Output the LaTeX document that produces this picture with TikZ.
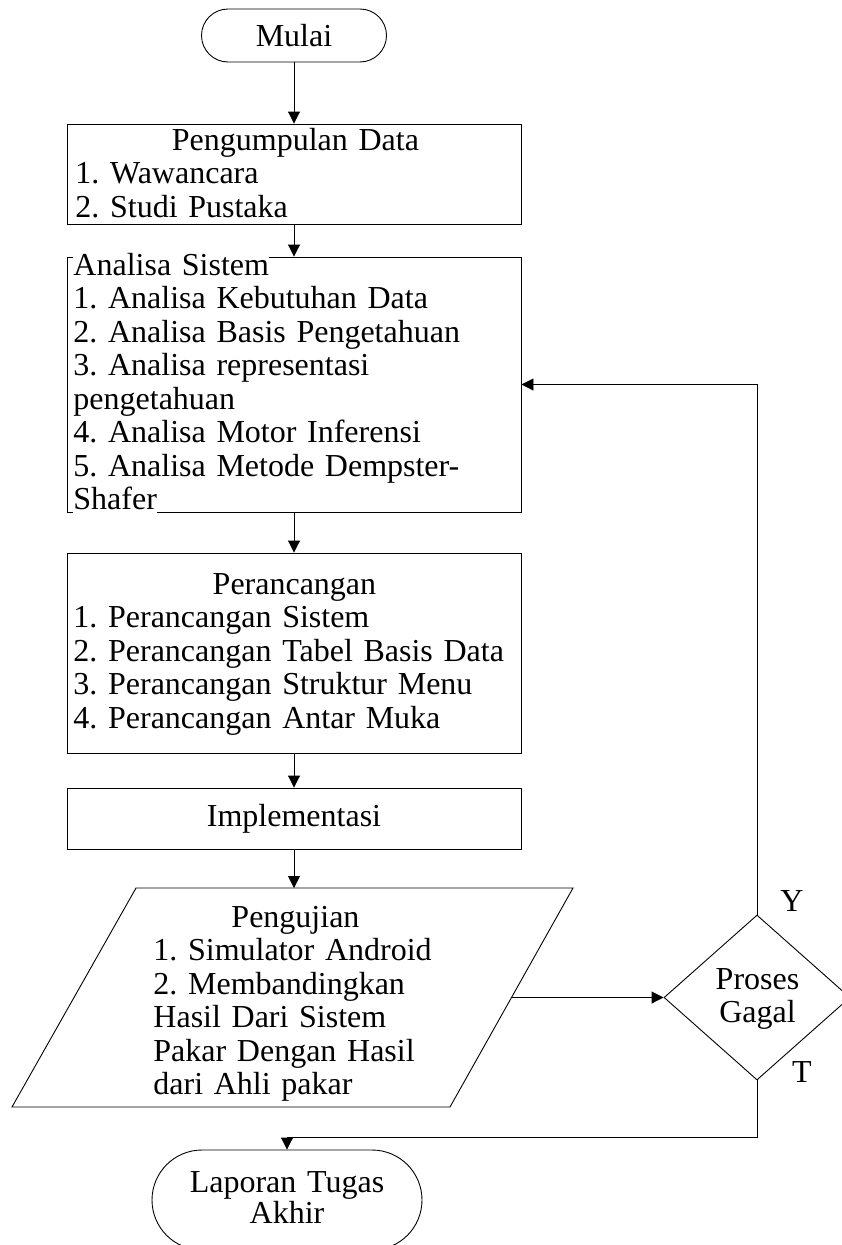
\documentclass[tikz,border=0pt]{standalone}
\usepackage{fontspec}
\setmainfont{Liberation Serif}
\usetikzlibrary{arrows.meta,shapes.geometric}
% a line of text on a white strip, so it hides the frame behind it
\newcommand{\onwhite}[1]{{\setlength{\fboxsep}{0pt}\colorbox{white}{\strut #1}}}
\frenchspacing
\begin{document}
\begin{tikzpicture}[x=1pt,y=-1pt,
  font=\fontsize{32pt}{33.5pt}\selectfont,
  line width=0.9pt,
  box/.style={draw, rectangle, minimum width=454pt, inner sep=0pt},
  term/.style={draw, rectangle, inner sep=0pt},
  txt/.style={inner sep=0pt, align=left},
  arr/.style={-{Triangle[length=12pt,width=12pt]}},
]
\useasboundingbox (0,0) rectangle (841,1245);

% start
\node[term, minimum width=185pt, minimum height=53pt, rounded corners=26.5pt] (mulai) at (294,35.5) {Mulai};

% data collection
\node[box, minimum height=100pt] (kumpul) at (294,174) {};
\node[txt, text width=440pt, anchor=base west] (kumpultxt) at (75,150)
  {\makebox[\linewidth]{Pengumpulan Data}\\1. Wawancara\\2. Studi Pustaka};

% system analysis
\node[box, minimum height=255pt] (analisa) at (294,384.5) {};
\node[txt, text width=450pt, anchor=base west] (analisatxt) at (73,275)
  {\onwhite{Analisa Sistem}\\1. Analisa Kebutuhan Data\\2. Analisa Basis Pengetahuan\\3. Analisa representasi\\pengetahuan\\4. Analisa Motor Inferensi\\5. Analisa Metode Dempster-\\\onwhite{Shafer}};

% design
\node[box, minimum height=200pt] (rancang) at (294,653) {};
\node[txt, text width=442pt, anchor=base west] (rancangtxt) at (73,594)
  {\makebox[\linewidth]{Perancangan}\\1. Perancangan Sistem\\2. Perancangan Tabel Basis Data\\3. Perancangan Struktur Menu\\4. Perancangan Antar Muka};

% implementation
\node[box, minimum height=61pt] (impl) at (294,818.5) {};
\node[txt, anchor=base] (impltxt) at (294,826) {Implementasi};

% testing (parallelogram)
\coordinate (ujiTL) at (136,888);
\coordinate (ujiTR) at (573,888);
\coordinate (ujiBR) at (450,1107);
\coordinate (ujiBL) at (12,1107);
\coordinate (ujiTop) at (294,888);
\coordinate (ujiRight) at (511.5,997.5);
\draw (ujiTL) -- (ujiTR) -- (ujiBR) -- (ujiBL) -- cycle;
\node[txt, text width=284pt, anchor=base west] (ujitxt) at (153,927)
  {\makebox[\linewidth]{Pengujian}\\1. Simulator Android\\2. Membandingkan\\Hasil Dari Sistem\\Pakar Dengan Hasil\\dari Ahli pakar};

% decision
\node[draw, diamond, minimum width=186pt, minimum height=165pt, inner sep=0pt] (gagal) at (757,997.5) {};
\node[txt, text width=150pt, align=center, anchor=base, font=\fontsize{32pt}{33pt}\selectfont] (gagaltxt) at (757.5,989) {Proses\\Gagal};
\node[txt, anchor=base] (ylabel) at (792,911) {Y};
\node[txt, anchor=base] (tlabel) at (802,1082) {T};

% end
\node[term, minimum width=270pt, minimum height=100pt, rounded corners=50pt] (laporan) at (287,1200) {};
\node[txt, text width=250pt, align=center, anchor=base, font=\fontsize{32pt}{31pt}\selectfont] (laporantxt) at (287,1192) {Laporan Tugas\\Akhir};

% connectors
\draw[arr] (mulai.south) -- (kumpul.north);
\draw[arr] (kumpul.south) -- (analisa.north);
\draw[arr] (analisa.south) -- (rancang.north);
\draw[arr] (rancang.south) -- (impl.north);
\draw[arr] (impl.south) -- (ujiTop);
\draw[arr] (ujiRight) -- (gagal.west);
\draw[arr] (gagal.north) |- (analisa.east);
\draw[arr] (gagal.south) -- ++(0,57) -| (laporan.north);
\end{tikzpicture}
\end{document}
